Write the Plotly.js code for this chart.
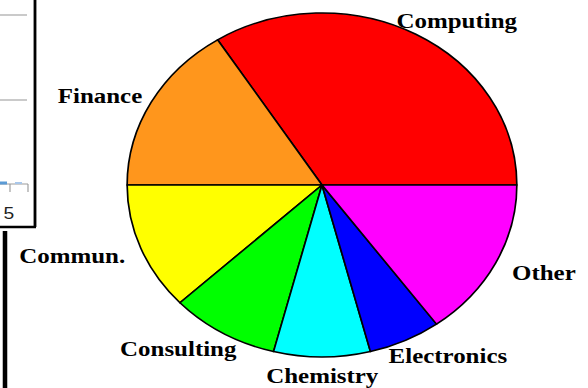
<!DOCTYPE html>
<html>
<head>
<meta charset="utf-8">
<script src="https://cdn.plot.ly/plotly-3.0.1.min.js"></script>
<style>
  html, body { margin: 0; padding: 0; background: #fff; overflow: hidden; }
  /* the original picture is a circular pie stretched sideways, so stretch the plot */
  #chart { width: 519px; height: 388px; transform: scaleX(1.1329); transform-origin: 0 0; }
</style>
</head>
<body>
<div id="chart"></div>
<script>
// Share of graduates by sector (%)
const sectors = ['Computing', 'Finance', 'Commun.', 'Consulting', 'Chemistry', 'Electronics', 'Other'];
const shares = [34, 16, 12, 9, 8, 6, 15];
const sliceColors = ['#FF0000', '#FF961C', '#FFFF00', '#00FF00', '#00FFFF', '#0000FF', '#FF00FF'];

// where each label sits in the final (stretched) picture, pixels
const labelPos = [[457, 20], [100, 95], [72, 255], [179, 348], [322, 375], [448, 355], [544, 272]];

const W = 519, H = 388, S = 588 / W;
const px = x => x / S / W;        // final pixel x -> paper x
const py = y => 1 - y / H;        // final pixel y -> paper y

const total = shares.reduce((a, b) => a + b, 0);

const pie = {
    type: 'pie',
    labels: sectors,
    values: shares,
    sort: false,
    direction: 'counterclockwise',
    // first slice should start at 3 o'clock and run counterclockwise
    rotation: 90 - 360 * shares[0] / total,
    textinfo: 'none',
    hoverinfo: 'label+percent',
    automargin: false,
    marker: { colors: sliceColors, line: { color: '#000', width: 1.5 } },
    domain: { x: [px(127), px(517)], y: [py(357), py(13)] }
};

const annotations = sectors.map((s, i) => ({
    text: s,
    xref: 'paper', yref: 'paper',
    x: px(labelPos[i][0]), y: py(labelPos[i][1]),
    xanchor: 'center', yanchor: 'middle',
    showarrow: false,
    font: { family: 'Liberation Serif, Times New Roman, serif', size: 22, color: '#000', weight: 'bold' }
}));

// scrap of a neighbouring chart cut off at the left edge
annotations.push({
    text: '5', xref: 'paper', yref: 'paper', x: px(8), y: py(213),
    xanchor: 'center', yanchor: 'middle', showarrow: false,
    font: { family: 'Liberation Sans, Arial, sans-serif', size: 17, color: '#222' }
});

const line = (x0, y0, x1, y1, color, width) => ({
    type: 'line', xref: 'paper', yref: 'paper',
    x0: px(x0), y0: py(y0), x1: px(x1), y1: py(y1),
    line: { color: color, width: width }
});

const shapes = [
    line(0, 15, 27, 15, '#b8b8b8', 1.5),
    line(0, 100, 27, 100, '#b8b8b8', 1.5),
    line(0, 184, 28, 184, '#9a9a9a', 1),
    line(0, 183, 7, 183, '#5b9bd5', 3),
    line(15, 183, 22, 183, '#a9c7ea', 2),
    line(10, 184, 10, 192, '#9a9a9a', 1),
    line(28, 184, 28, 192, '#9a9a9a', 1),
    line(35, 0, 35, 227, '#000', 2.5),
    line(0, 227, 36, 227, '#000', 2.5),
    line(5, 231, 5, 388, '#000', 4)
];

const layout = {
    width: W,
    height: H,
    margin: { l: 0, r: 0, t: 0, b: 0 },
    paper_bgcolor: '#fff',
    showlegend: false,
    annotations: annotations,
    shapes: shapes
};

Plotly.newPlot('chart', [pie], layout, { displayModeBar: false, staticPlot: true });
</script>
</body>
</html>
